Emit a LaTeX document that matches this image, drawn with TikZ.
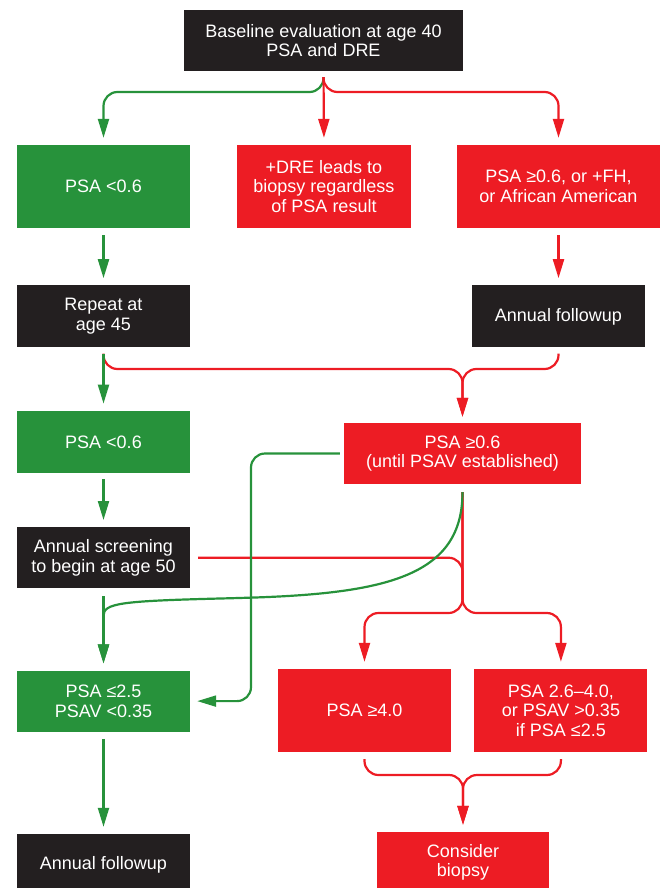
\documentclass[tikz,border=0pt]{standalone}
\usepackage{fontspec}
\setmainfont{Liberation Sans}
\usetikzlibrary{positioning, arrows.meta}
\definecolor{psagreen}{RGB}{39,146,59}
\definecolor{psared}{RGB}{237,28,36}
\definecolor{psablack}{RGB}{35,31,32}
\tikzset{block/.style={rectangle, inner sep=0pt, text=white, align=center,
            minimum width=173pt, minimum height=61pt,
            font=\fontsize{18}{19.5}\selectfont}, % all boxes share this
         gblock/.style={block, fill=psagreen},
         rblock/.style={block, fill=psared},
         kblock/.style={block, fill=psablack},
         gline/.style={draw=psagreen, line width=2.2pt, rounded corners=14pt},
         rline/.style={draw=psared, line width=2.2pt, rounded corners=14pt},
         >={Triangle[length=19pt, width=11pt]}}

\begin{document}
\begin{tikzpicture}[x=1pt, y=-1pt, node distance=57pt]
        \useasboundingbox (0,0) rectangle (666,888);
        \node[kblock, minimum width=279pt] (base) at (323.5,40.5) {Baseline evaluation at age 40\\PSA and DRE};
        \node[gblock, minimum height=83pt] (g1) at (103.5,186.5) {PSA <0.6};
        \node[rblock, minimum width=174pt, minimum height=83pt] (dre) at (324,186.5) {+DRE leads to\\biopsy regardless\\of PSA result};
        \node[rblock, minimum width=203pt, minimum height=83pt] (r1) at (558.5,186.5) {PSA ≥0.6, or +FH,\\or African American};
        \node[kblock, minimum height=62pt, below=of g1] (rep) {Repeat at\\age 45};
        \node[kblock, minimum height=62pt, below=of r1] (fol1) {Annual followup};
        \node[gblock, minimum height=62pt, below=63pt of rep] (g2) {PSA <0.6};
        \node[rblock, minimum width=237pt] (r2) at (462.5,453.5) {PSA ≥0.6\\(until PSAV established)};
        \node[kblock, below=54pt of g2] (scr) {Annual screening\\to begin at age 50};
        \node[gblock, below=82pt of scr] (g3) {PSA ≤2.5\\PSAV <0.35};
        \node[rblock, minimum height=83pt] (r3) at (364.5,710.5) {PSA ≥4.0};
        \node[rblock, minimum height=83pt, right=23pt of r3] (r4) {PSA 2.6–4.0,\\or PSAV >0.35\\if PSA ≤2.5};
        \node[kblock, below=102pt of g3] (fol2) {Annual followup};
        \node[rblock, minimum width=172pt] (bio) at (463,862.5) {Consider\\biopsy};

        % junction points
        \coordinate (j0) at (323.5,92);
        \coordinate (j1) at (462.5,369);
        \coordinate (j2) at (462.5,600);
        \coordinate (j3) at (414,613);
        \coordinate (j4) at (510,613);
        \coordinate (j5) at (463,775);
        \coordinate (k1) at (251,600);

        \draw[gline, ->, shorten <=6pt, shorten >=7pt] (base.south) |- (g1.north |- j0) -- (g1.north);
        \draw[rline, ->, shorten <=6pt, shorten >=7pt] (base.south) |- (r1.north |- j0) -- (r1.north);
        \draw[rline, ->, shorten <=6pt, shorten >=7pt] (base.south) -- (dre.north);
        \draw[gline, ->, shorten <=7pt, shorten >=7pt] (g1.south) -- (rep.north);
        \draw[rline, ->, shorten <=7pt, shorten >=7pt] (r1.south) -- (fol1.north);

        \draw[rline, ->, shorten <=6pt, shorten >=6pt] (rep.south) |- (j1) -- (r2.north);
        \draw[rline, ->, shorten <=6pt, shorten >=6pt] (fol1.south) |- (j1) -- (r2.north);
        \draw[gline, ->, shorten <=6pt, shorten >=7pt] (rep.south) -- (g2.north);
        \draw[gline, ->, shorten <=6pt, shorten >=7pt] (g2.south) -- (scr.north);

        \draw[rline, shorten <=8pt] (scr.east) -| (j2);
        \draw[rline, ->, shorten <=8pt, shorten >=7pt] (r2.south) |- (j3) -| (r3.north);
        \draw[rline, ->, shorten <=8pt, shorten >=7pt] (r2.south) |- (j4) -| (r4.north);
        \draw[gline, ->, shorten <=4pt, shorten >=7pt] (r2.west) -| (k1) |- (g3.east);
        \draw[gline, ->, shorten <=8pt, shorten >=7pt] (r2.south) .. controls +(0,90) and +(150,-5) .. (240,598)
            .. controls (120,601) and (103.5,603) .. (103.5,630) -- (g3.north);
        \draw[gline, ->, shorten <=8pt, shorten >=7pt] (scr.south) -- (g3.north);

        \draw[rline, ->, shorten <=7pt, shorten >=7pt] (r3.south) |- (j5) -- (bio.north);
        \draw[rline, ->, shorten <=7pt, shorten >=7pt] (r4.south) |- (j5) -- (bio.north);
        \draw[gline, ->, shorten <=7pt, shorten >=7pt] (g3.south) -- (fol2.north);
    \end{tikzpicture}
\end{document}
